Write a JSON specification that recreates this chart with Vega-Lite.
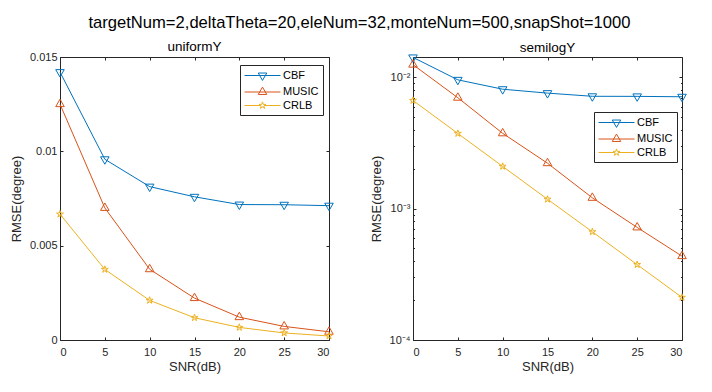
{
  "$schema": "https://vega.github.io/schema/vega-lite/v6.json",
  "background": "white",
  "padding": {"left": 9, "top": 15, "right": 5, "bottom": 5},
  "title": {"text": "targetNum=2,deltaTheta=20,eleNum=32,monteNum=500,snapShot=1000", "fontSize": 16.6, "fontWeight": "normal", "font": "Liberation Sans", "color": "#000000", "anchor": "middle", "offset": 7, "dx": 10},
  "spacing": 84,
  "bounds": "flush",
  "config": {
    "font": "Liberation Sans",
    "view": {"stroke": "#262626", "strokeWidth": 1},
    "axis": {"domain": false, "grid": false, "tickColor": "#262626", "tickSize": -3, "labelColor": "#262626", "labelFontSize": 11, "titleColor": "#262626", "titleFontSize": 13, "titleFontWeight": "normal", "labelFont": "Liberation Sans", "titleFont": "Liberation Sans"},
    "legend": {"title": null, "orient": "none", "strokeColor": "#262626", "fillColor": "white", "padding": 4, "symbolSize": 144, "rowPadding": 1.5, "labelFontSize": 11, "labelColor": "#000000", "labelOffset": 14, "symbolOffset": 12, "symbolStrokeWidth": 1}
  },
  "datasets": {
    "d": [
      {"snr": 0, "rmse": 0.0142, "method": "CBF"},
      {"snr": 5, "rmse": 0.00958, "method": "CBF"},
      {"snr": 10, "rmse": 0.00813, "method": "CBF"},
      {"snr": 15, "rmse": 0.00759, "method": "CBF"},
      {"snr": 20, "rmse": 0.00718, "method": "CBF"},
      {"snr": 25, "rmse": 0.00717, "method": "CBF"},
      {"snr": 30, "rmse": 0.00712, "method": "CBF"},
      {"snr": 0, "rmse": 0.0125, "method": "MUSIC"},
      {"snr": 5, "rmse": 0.0070, "method": "MUSIC"},
      {"snr": 10, "rmse": 0.00375, "method": "MUSIC"},
      {"snr": 15, "rmse": 0.00222, "method": "MUSIC"},
      {"snr": 20, "rmse": 0.00121, "method": "MUSIC"},
      {"snr": 25, "rmse": 0.00072, "method": "MUSIC"},
      {"snr": 30, "rmse": 0.000435, "method": "MUSIC"},
      {"snr": 0, "rmse": 0.00667, "method": "CRLB"},
      {"snr": 5, "rmse": 0.00374, "method": "CRLB"},
      {"snr": 10, "rmse": 0.0021, "method": "CRLB"},
      {"snr": 15, "rmse": 0.00118, "method": "CRLB"},
      {"snr": 20, "rmse": 0.000667, "method": "CRLB"},
      {"snr": 25, "rmse": 0.000375, "method": "CRLB"},
      {"snr": 30, "rmse": 0.000211, "method": "CRLB"}
    ]
  },
  "hconcat": [
    {
      "width": 269,
      "height": 283,
      "data": {"name": "d"},
      "title": {"text": "uniformY", "fontSize": 13.5, "fontWeight": "normal", "color": "#000000", "offset": -2},
      "encoding": {
        "color": {"field": "method", "type": "nominal", "sort": ["CBF", "MUSIC", "CRLB"], "scale": {"domain": ["CBF", "MUSIC", "CRLB"], "range": ["#0072BD", "#D95319", "#EDB120"]},
          "legend": {"legendX": 180, "legendY": 8,
            "encode": {"symbols": {"update": {"shape": {"signal": "datum.value === 'CBF' ? 'M-3,0L3,0M-0.708,-0.41L0.708,-0.41L0,0.82Z' : datum.value === 'MUSIC' ? 'M-3,0L3,0M-0.708,0.41L0.708,0.41L0,-0.82Z' : 'M-3,0L-0.35,0M0.35,0L3,0M0,-0.6L0.1347,-0.1854L0.5706,-0.1854L0.2178,0.0708L0.3528,0.4854L0,0.2292L-0.3528,0.4854L-0.2178,0.0708L-0.5706,-0.1854L-0.1347,-0.1854Z'"}, "fill": {"value": "transparent"}, "opacity": {"value": 1}, "strokeWidth": {"value": 1}}}}}}
      },
      "layer": [
        {
          "mark": {"type": "line", "strokeWidth": 1},
          "encoding": {
            "x": {"field": "snr", "type": "quantitative", "scale": {"domain": [0, 30], "nice": false}, "axis": {"orient": "bottom", "values": [0, 5, 10, 15, 20, 25, 30], "title": "SNR(dB)", "labelPadding": 9, "titlePadding": 3}},
            "y": {"field": "rmse", "type": "quantitative", "scale": {"domain": [0, 0.015], "nice": false}, "axis": {"orient": "left", "values": [0, 0.005, 0.01, 0.015], "labelExpr": "datum.value === 0 ? '0' : datum.value < 0.007 ? '0.005' : datum.value < 0.012 ? '0.01' : '0.015'", "title": "RMSE(degree)", "labelPadding": 6, "titlePadding": 6}}
          }
        },
        {
          "transform": [{"filter": "datum.method === 'CBF'"}],
          "mark": {"type": "point", "filled": false, "strokeWidth": 1, "size": 81, "opacity": 1, "shape": "M-0.95,-0.55L0.95,-0.55L0,1.1Z"},
          "encoding": {
            "x": {"field": "snr", "type": "quantitative", "axis": {"orient": "top", "values": [0, 5, 10, 15, 20, 25, 30], "labels": false, "title": null}},
            "y": {"field": "rmse", "type": "quantitative", "axis": {"orient": "right", "values": [0, 0.005, 0.01, 0.015], "labels": false, "title": null}}
          }
        },
        {
          "transform": [{"filter": "datum.method === 'MUSIC'"}],
          "mark": {"type": "point", "filled": false, "strokeWidth": 1, "size": 81, "opacity": 1, "shape": "M-0.95,0.55L0.95,0.55L0,-1.1Z"},
          "encoding": {
            "x": {"field": "snr", "type": "quantitative", "axis": null},
            "y": {"field": "rmse", "type": "quantitative", "axis": null}
          }
        },
        {
          "transform": [{"filter": "datum.method === 'CRLB'"}],
          "mark": {"type": "point", "filled": false, "strokeWidth": 1, "size": 81, "opacity": 1, "shape": "M0,-0.8L0.18,-0.247L0.761,-0.247L0.29,0.094L0.47,0.647L0,0.306L-0.47,0.647L-0.29,0.094L-0.761,-0.247L-0.18,-0.247Z"},
          "encoding": {
            "x": {"field": "snr", "type": "quantitative", "axis": null},
            "y": {"field": "rmse", "type": "quantitative", "axis": null}
          }
        }
      ],
      "resolve": {"axis": {"x": "independent", "y": "independent"}}
    },
    {
      "width": 269,
      "height": 283,
      "data": {"name": "d"},
      "title": {"text": "semilogY", "fontSize": 13.5, "fontWeight": "normal", "color": "#000000", "offset": -2},
      "encoding": {
        "color": {"field": "method", "type": "nominal", "sort": ["CBF", "MUSIC", "CRLB"], "scale": {"domain": ["CBF", "MUSIC", "CRLB"], "range": ["#0072BD", "#D95319", "#EDB120"]},
          "legend": {"legendX": 181, "legendY": 55,
            "encode": {"symbols": {"update": {"shape": {"signal": "datum.value === 'CBF' ? 'M-3,0L3,0M-0.708,-0.41L0.708,-0.41L0,0.82Z' : datum.value === 'MUSIC' ? 'M-3,0L3,0M-0.708,0.41L0.708,0.41L0,-0.82Z' : 'M-3,0L-0.35,0M0.35,0L3,0M0,-0.6L0.1347,-0.1854L0.5706,-0.1854L0.2178,0.0708L0.3528,0.4854L0,0.2292L-0.3528,0.4854L-0.2178,0.0708L-0.5706,-0.1854L-0.1347,-0.1854Z'"}, "fill": {"value": "transparent"}, "opacity": {"value": 1}, "strokeWidth": {"value": 1}}}}}}
      },
      "layer": [
        {
          "mark": {"type": "line", "strokeWidth": 1},
          "encoding": {
            "x": {"field": "snr", "type": "quantitative", "scale": {"domain": [0, 30], "nice": false}, "axis": {"orient": "bottom", "values": [0, 5, 10, 15, 20, 25, 30], "title": "SNR(dB)", "labelPadding": 9, "titlePadding": 3}},
            "y": {"field": "rmse", "type": "quantitative", "scale": {"type": "log", "domain": [0.0001, 0.0143], "nice": false}, "axis": {"orient": "left", "values": [0.0001, 0.001, 0.01], "labelExpr": "datum.value < 0.0005 ? '10⁻⁴' : datum.value < 0.005 ? '10⁻³' : '10⁻²'", "title": "RMSE(degree)", "labelPadding": 6, "titlePadding": 6}}
          }
        },
        {
          "transform": [{"filter": "datum.method === 'CBF'"}],
          "mark": {"type": "point", "filled": false, "strokeWidth": 1, "size": 81, "opacity": 1, "shape": "M-0.95,-0.55L0.95,-0.55L0,1.1Z"},
          "encoding": {
            "x": {"field": "snr", "type": "quantitative", "axis": {"orient": "top", "values": [0, 5, 10, 15, 20, 25, 30], "labels": false, "title": null}},
            "y": {"field": "rmse", "type": "quantitative", "axis": {"orient": "right", "values": [0.0001, 0.001, 0.01], "labels": false, "title": null}}
          }
        },
        {
          "transform": [{"filter": "datum.method === 'MUSIC'"}],
          "mark": {"type": "point", "filled": false, "strokeWidth": 1, "size": 81, "opacity": 1, "shape": "M-0.95,0.55L0.95,0.55L0,-1.1Z"},
          "encoding": {
            "x": {"field": "snr", "type": "quantitative", "axis": null},
            "y": {"field": "rmse", "type": "quantitative", "axis": {"orient": "left", "values": [0.0002, 0.0003, 0.0004, 0.0005, 0.0006, 0.0007, 0.0008, 0.0009, 0.002, 0.003, 0.004, 0.005, 0.006, 0.007, 0.008, 0.009], "labels": false, "title": null, "tickSize": -1.5}}
          }
        },
        {
          "transform": [{"filter": "datum.method === 'CRLB'"}],
          "mark": {"type": "point", "filled": false, "strokeWidth": 1, "size": 81, "opacity": 1, "shape": "M0,-0.8L0.18,-0.247L0.761,-0.247L0.29,0.094L0.47,0.647L0,0.306L-0.47,0.647L-0.29,0.094L-0.761,-0.247L-0.18,-0.247Z"},
          "encoding": {
            "x": {"field": "snr", "type": "quantitative", "axis": null},
            "y": {"field": "rmse", "type": "quantitative", "axis": {"orient": "right", "values": [0.0002, 0.0003, 0.0004, 0.0005, 0.0006, 0.0007, 0.0008, 0.0009, 0.002, 0.003, 0.004, 0.005, 0.006, 0.007, 0.008, 0.009], "labels": false, "title": null, "tickSize": -1.5}}
          }
        }
      ],
      "resolve": {"axis": {"x": "independent", "y": "independent"}}
    }
  ],
  "resolve": {"scale": {"color": "independent"}, "legend": {"color": "independent"}}
}
